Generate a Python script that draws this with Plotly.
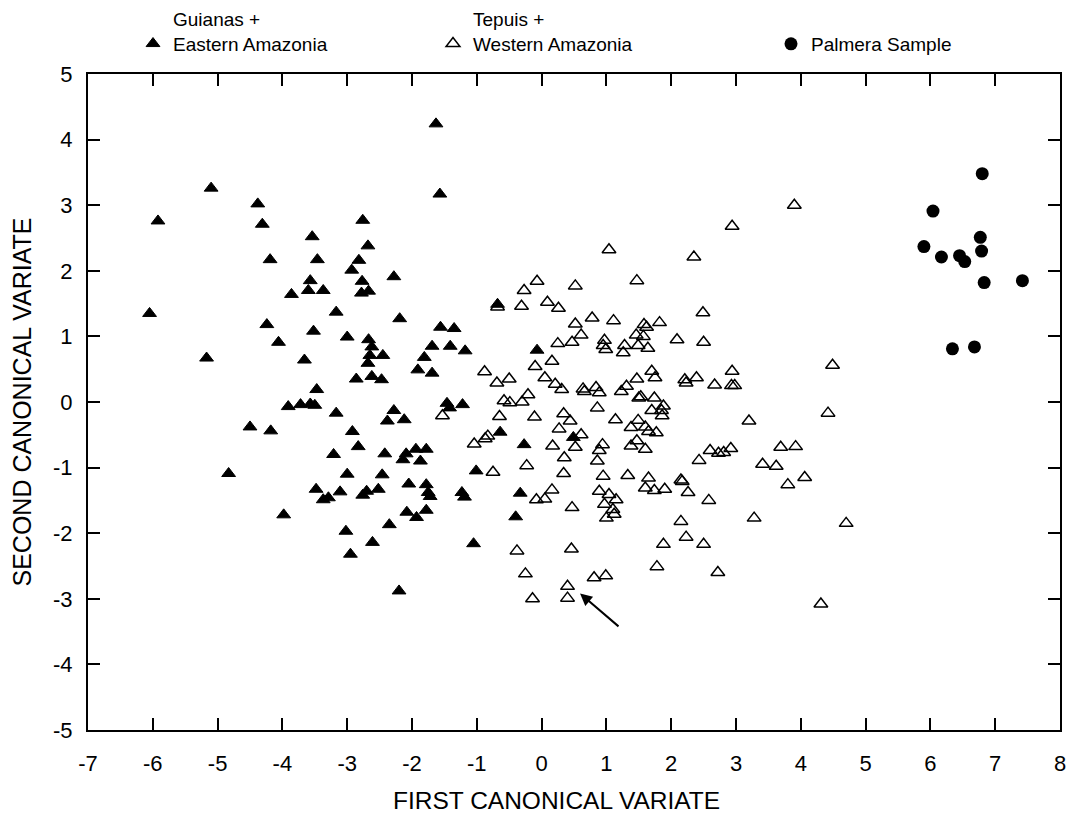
import plotly.graph_objects as go

# Guianas + Eastern Amazonia (filled triangles)
gea_x = [-5.10, -5.92, -4.38, -4.31, -4.19, -3.54, -3.46, -3.57, -3.60, -3.37, -3.86,
         -1.63, -1.57, -2.76, -2.68, -2.82, -2.93, -2.28, -2.77, -2.67, -2.78, -0.68,
         -6.05, -5.17, -4.24, -4.06, -3.52, -3.66, -3.47, -3.91, -3.72, -3.57, -3.50,
         -4.50, -4.18, -4.83, -3.48, -3.37, -3.29, -3.98,
         -3.17, -2.19, -1.56, -1.35, -3.00, -2.67, -2.62, -2.45, -2.65, -2.68, -1.69,
         -1.41, -1.18, -1.81, -1.91, -1.69, -2.86, -2.62, -2.47, -1.46, -1.42, -1.22,
         -3.17, -2.28, -2.38, -2.12, -2.92, -2.83, -3.21, -2.42, -2.09, -2.14, -1.94,
         -1.78, -1.87, -3.00, -2.46, -2.05, -1.78, -1.75, -1.72, -2.70, -2.76, -2.52,
         -3.11, -1.23, -1.19, -2.08, -1.93, -1.78, -2.35, -3.02, -2.61, -1.05, -1.01,
         -0.64, -0.27, -0.07, -0.33, -0.40, -2.95, -2.20, 0.49]
gea_y = [3.26, 2.76, 3.02, 2.71, 2.17, 2.52, 2.17, 1.85, 1.70, 1.70, 1.64,
         4.24, 3.17, 2.77, 2.38, 2.16, 2.01, 1.91, 1.84, 1.69, 1.66, 1.49,
         1.35, 0.67, 1.18, 0.91, 1.08, 0.64, 0.19, -0.07, -0.04, -0.03, -0.05,
         -0.38, -0.44, -1.09, -1.33, -1.49, -1.46, -1.72,
         1.37, 1.27, 1.14, 1.12, 0.99, 0.95, 0.84, 0.71, 0.71, 0.59, 0.85,
         0.85, 0.78, 0.68, 0.49, 0.44, 0.35, 0.39, 0.34, -0.02, -0.09, -0.04,
         -0.17, -0.13, -0.29, -0.27, -0.45, -0.68, -0.80, -0.79, -0.79, -0.88, -0.72,
         -0.72, -0.90, -1.10, -1.11, -1.25, -1.26, -1.38, -1.44, -1.36, -1.42, -1.33,
         -1.37, -1.38, -1.45, -1.68, -1.76, -1.65, -1.87, -1.97, -2.14, -2.16, -1.05,
         -0.46, -0.65, 0.79, -1.39, -1.75, -2.32, -2.88, -0.54]

# Tepuis + Western Amazonia (open triangles)
twa_x = [-0.07, -0.27, 0.09, -0.31, 0.26, -0.68,
         1.04, 0.52, 1.47, 2.35, 2.94, 3.90,
         0.25, 0.16, -0.10, -0.88, -0.69, -0.50, 0.05, 0.21, 0.31, -0.21,
         -0.58, -0.49, -0.30, -0.65, -0.11, 0.34, 0.27, -1.04, -0.87, -0.83,
         0.17, 0.35, -0.75, -0.23, 0.34, 0.16, -0.08, 0.05, -1.53,
         0.78, 1.11, 0.52, 0.61, 0.47, 1.58, 1.62, 1.82, 1.46, 1.57, 1.49,
         1.64, 1.28, 1.26, 0.97, 0.95, 0.99, 2.09, 2.50, 2.49, 1.70, 1.75,
         1.47, 1.31, 1.23, 0.84, 0.89, 0.64, 0.66, 1.50, 1.53, 1.74, 1.88,
         1.85, 1.86, 1.70, 0.86, 2.21, 2.23, 2.39, 2.67, 2.94, 2.93, 2.98,
         0.44, 1.14, 1.49, 1.38, 1.60, 1.65, 1.77, 1.47, 0.61, 0.52, 0.94,
         0.89, 1.38, 1.60, 0.86, 2.60, 2.73, 2.81, 2.92, 2.43, 3.69, 3.92,
         3.41, 3.62, 4.06, 3.80, 0.95, 1.33, 1.65, 1.60, 1.74, 1.90, 2.15,
         2.17, 2.26, 0.89, 1.04, 1.15, 0.97, 1.10, 1.12, 1.00, 0.47, 2.58,
         3.20, 2.15, 3.28,
         4.49, 4.42, 4.70, 4.31,
         0.46, 0.40, 0.40, 0.81, 0.99, 1.88, 2.23, 2.50, 1.78, 2.72,
         -0.38, -0.25, -0.14]
twa_y = [1.84, 1.70, 1.52, 1.46, 1.43, 1.45,
         2.32, 1.77, 1.85, 2.21, 2.68, 3.00,
         0.89, 0.62, 0.54, 0.46, 0.29, 0.35, 0.37, 0.27, 0.19, 0.11,
         0.02, -0.01, 0.00, -0.22, -0.23, -0.18, -0.41, -0.64, -0.56, -0.52,
         -0.67, -0.85, -1.07, -0.97, -1.09, -1.34, -1.49, -1.48, -0.21,
         1.28, 1.24, 1.19, 1.02, 0.91, 1.18, 1.14, 1.21, 1.02, 1.00, 0.86,
         0.82, 0.86, 0.75, 0.94, 0.86, 0.80, 0.95, 0.91, 1.36, 0.47, 0.37,
         0.35, 0.24, 0.16, 0.22, 0.14, 0.20, 0.16, 0.06, 0.08, 0.06, -0.06,
         -0.13, -0.21, -0.13, -0.09, 0.34, 0.29, 0.37, 0.26, 0.47, 0.25, 0.25,
         -0.29, -0.27, -0.28, -0.39, -0.38, -0.45, -0.47, -0.59, -0.50, -0.69, -0.65,
         -0.74, -0.67, -0.72, -0.90, -0.74, -0.78, -0.77, -0.71, -0.89, -0.69, -0.68,
         -0.95, -0.98, -1.15, -1.26, -1.13, -1.12, -1.16, -1.31, -1.35, -1.33, -1.19,
         -1.21, -1.38, -1.36, -1.41, -1.49, -1.56, -1.64, -1.71, -1.77, -1.61, -1.50,
         -0.29, -1.82, -1.77,
         0.56, -0.17, -1.85, -3.08,
         -2.24, -2.81, -2.99, -2.68, -2.65, -2.17, -2.06, -2.17, -2.51, -2.60,
         -2.27, -2.62, -3.00]

# Palmera sample (filled circles)
pal_x = [6.80, 6.04, 6.77, 5.90, 6.79, 6.17, 6.45, 6.53, 6.83, 7.42, 6.34, 6.68]
pal_y = [3.48, 2.91, 2.51, 2.37, 2.30, 2.21, 2.23, 2.14, 1.82, 1.85, 0.81, 0.84]

# Axis ticks, labelled with plain hyphen-minus
x_ticks = [-7, -6, -5, -4, -3, -2, -1, 0, 1, 2, 3, 4, 5, 6, 7, 8]
x_labels = ["-7", "-6", "-5", "-4", "-3", "-2", "-1", "0", "1", "2", "3", "4", "5", "6", "7", "8"]
y_ticks = [-5, -4, -3, -2, -1, 0, 1, 2, 3, 4, 5]
y_labels = ["-5", "-4", "-3", "-2", "-1", "0", "1", "2", "3", "4", "5"]

# Arrow pointing at a specimen (head and tail in data units)
arrow_head = (0.57, -2.90)
arrow_tail = (1.21, -3.44)

FONT = "Liberation Sans, Arial, Helvetica, sans-serif"

fig = go.Figure()
fig.add_trace(go.Scatter(
    x=gea_x, y=gea_y, mode="markers", name="Guianas +<br>Eastern Amazonia",
    marker=dict(symbol="triangle-up", size=12, color="black",
                line=dict(color="black", width=1)),
    legend="legend"))
fig.add_trace(go.Scatter(
    x=twa_x, y=twa_y, mode="markers", name="Tepuis +<br>Western Amazonia",
    marker=dict(symbol="triangle-up-open", size=12, color="black",
                line=dict(color="black", width=1.5)),
    legend="legend2"))
fig.add_trace(go.Scatter(
    x=pal_x, y=pal_y, mode="markers", name="Palmera Sample",
    marker=dict(symbol="circle", size=13, color="black"),
    legend="legend3"))

fig.add_annotation(x=arrow_head[0], y=arrow_head[1], ax=arrow_tail[0], ay=arrow_tail[1],
                   xref="x", yref="y", axref="x", ayref="y", text="",
                   showarrow=True, arrowhead=2, arrowsize=1.2, arrowwidth=2,
                   arrowcolor="black", standoff=2)

# Horizontal axis title, set slightly left of the plot centre
fig.add_annotation(text="FIRST CANONICAL VARIATE", xref="paper", yref="paper",
                   x=0.4825, y=-0.107, xanchor="center", yanchor="middle",
                   showarrow=False, font=dict(family=FONT, size=24.5, color="black"))

axis_common = dict(
    showline=True, linecolor="black", linewidth=2, mirror="ticks",
    ticks="inside", ticklen=12, tickwidth=1.5, tickcolor="black",
    showgrid=False, zeroline=False, tickmode="array", automargin=False,
    tickfont=dict(family=FONT, size=22, color="black"),
)

legend_common = dict(
    orientation="h", xref="container", yref="container",
    xanchor="left", yanchor="top", valign="bottom",
    font=dict(family=FONT, size=19, color="black"),
    bgcolor="rgba(0,0,0,0)", borderwidth=0,
)

fig.update_layout(
    width=1068, height=813,
    margin=dict(l=88, r=8, t=74, b=83, autoexpand=False),
    paper_bgcolor="white", plot_bgcolor="white",
    font=dict(family=FONT, color="black"),
    showlegend=True,
    xaxis=dict(range=[-7, 8], tickvals=x_ticks, ticktext=x_labels, ticklabelstandoff=13,
               **axis_common),
    yaxis=dict(range=[-5, 5], tickvals=y_ticks, ticktext=y_labels, ticklabelstandoff=9,
               title=dict(text="SECOND CANONICAL VARIATE", standoff=14,
                          font=dict(family=FONT, size=25, color="black")),
               **axis_common),
    legend=dict(x=133 / 1068, y=1.0, **legend_common),
    legend2=dict(x=433 / 1068, y=1.0, **legend_common),
    legend3=dict(x=771 / 1068, y=1 - 25 / 813, **legend_common),
)

fig.write_html("out.html")
